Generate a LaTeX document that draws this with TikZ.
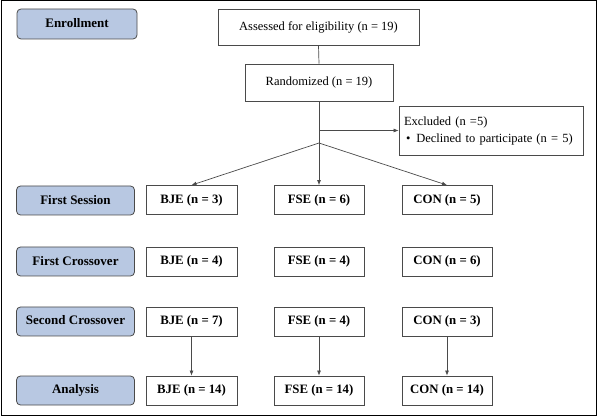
\documentclass[tikz,border=0pt]{standalone}
\usepackage{fontspec}
\setmainfont{Liberation Serif}
\usetikzlibrary{arrows.meta}
\definecolor{labelblue}{HTML}{B8C8E2}
\definecolor{edgegray}{HTML}{4A4A4A}
\begin{document}
\begin{tikzpicture}[x=1pt,y=-1pt,
  lab/.style={draw=edgegray,line width=0.8pt,fill=labelblue,rounded corners=4pt,minimum width=118pt,minimum height=29pt,inner sep=0pt,font=\fontsize{13}{15}\selectfont\bfseries},
  grp/.style={draw=edgegray,line width=0.8pt,fill=white,minimum width=90pt,minimum height=29pt,inner sep=0pt,font=\fontsize{12.8}{15}\selectfont\bfseries},
  flow/.style={draw=edgegray,line width=0.8pt,fill=white,inner sep=0pt,font=\fontsize{12.5}{15}\selectfont},
  conn/.style={draw=edgegray,line width=0.7pt},
  arr/.style={conn,-{Latex[length=5pt,width=4pt]}}]
\useasboundingbox (0,0) rectangle (598,417);
\draw[line width=1pt,black] (1,1) rectangle (596.5,415.5);

\node[lab,minimum width=120pt,minimum height=30pt] (enroll) at (77,24) {\raisebox{2pt}{Enrollment}};
\node[flow,minimum width=201pt,minimum height=36pt] (assess) at (318.5,27) {Assessed for eligibility (n = 19)};
\node[flow,minimum width=148pt,minimum height=37pt] (rand) at (319,82.5) {Randomized (n = 19)};
\node[flow,minimum width=184pt,minimum height=49pt,align=left,text width=174pt] (excl) at (491,130.5) {Excluded (n =5)\\[2pt]\hspace*{2pt}\textbullet\hspace{6pt}Declined to participate (n = 5)};

\node[lab] (l1) at (75.5,200.5) {First Session};
\node[lab] (l2) at (75.5,261.5) {First Crossover};
\node[lab] (l3) at (75.5,321.5) {\raisebox{3pt}{Second Crossover}};
\node[lab] (l4) at (75.5,390.5) {Analysis};

\node[grp,minimum width=91pt] (b1) at (191.5,200) {BJE (n = 3)};
\node[grp] (f1) at (319,200) {FSE (n = 6)};
\node[grp] (c1) at (447,200) {CON (n = 5)};

\node[grp,minimum width=91pt] (b2) at (191.5,261.5) {BJE (n = 4)};
\node[grp] (f2) at (319,261.5) {FSE (n = 4)};
\node[grp] (c2) at (447,261.5) {CON (n = 6)};

\node[grp,minimum width=91pt] (b3) at (191.5,321.5) {BJE (n = 7)};
\node[grp] (f3) at (319,321.5) {FSE (n = 4)};
\node[grp] (c3) at (447,321.5) {CON (n = 3)};

\node[grp,minimum width=91pt] (b4) at (191.5,390.5) {BJE (n = 14)};
\node[grp] (f4) at (319,390.5) {FSE (n = 14)};
\node[grp] (c4) at (447,390.5) {CON (n = 14)};

\coordinate (split) at (319,143);
\coordinate (tee) at (319,130.5);

\draw[conn] (assess.south) -- (rand.north);
\draw[conn] (rand.south) -- (split);
\draw[arr] (tee) -- (excl.west);
\draw[arr] (split) -- (b1.north);
\draw[arr] (split) -- (f1.north);
\draw[arr] (split) -- (c1.north);

\draw[arr] (b3.south) -- (b4.north);
\draw[arr] (f3.south) -- (f4.north);
\draw[arr] (c3.south) -- (c4.north);
\end{tikzpicture}
\end{document}
